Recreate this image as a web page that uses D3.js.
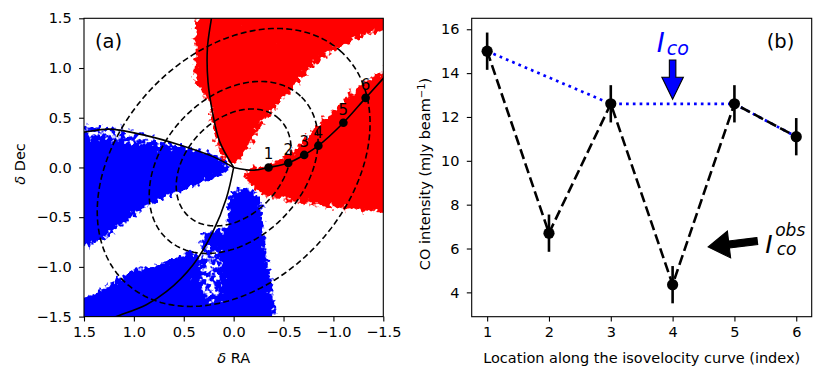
<!DOCTYPE html>
<html>
<head>
<meta charset="utf-8">
<script src="https://cdn.jsdelivr.net/npm/d3@7"></script>
<style>
  body { margin: 0; background: #fff; }
  text { font-family: "DejaVu Sans", sans-serif; fill: #000; }
</style>
</head>
<body>
<div id="wrapper"></div>
<script>
// ---------- panel (a) data : offsets in RA / Dec ----------
const locRA = [-0.35, -0.547, -0.707, -0.849, -1.10, -1.323];
const locDec = [0.0, 0.045, 0.126, 0.219, 0.45, 0.70];
const locLabels = ["1", "2", "3", "4", "5", "6"];
const axisTicksA = [1.5, 1.0, 0.5, 0.0, -0.5, -1.0, -1.5];

// dashed rings (projected circles), semi-major axis in same units
const ringMajor = [0.668, 0.982, 1.587];
const ringAxisRatio = 0.72;
const ringAngleDeg = 47;

// isovelocity curves, two branches each meeting at the centre
const isoLeft = [[1.6, 0.34], [1.5, 0.355], [1.24, 0.385], [0.875, 0.32], [0.54, 0.226], [0.207, 0.109], [0, 0]];
const isoRight = [[0, 0], [-0.19, -0.028], [-0.35, 0.0], [-0.547, 0.045], [-0.707, 0.126], [-0.849, 0.219], [-1.10, 0.45], [-1.323, 0.70], [-1.5, 0.896], [-1.6, 1.01]];
const minorUp = [[0.21, 1.6], [0.223, 1.5], [0.263, 1.2], [0.257, 0.86], [0.207, 0.53], [0.14, 0.26], [0, 0]];
const minorDown = [[0, 0], [0.073, -0.31], [0.207, -0.645], [0.408, -0.98], [0.675, -1.25], [0.875, -1.38], [1.176, -1.5], [1.3, -1.55]];

// red (redshifted) and blue (blueshifted) emission patches
const redUpper = [[0.371, 1.6], [-1.6, 1.6], [-1.6, 1.40], [-1.296, 1.332], [-1.029, 1.198], [-0.762, 0.997], [-0.561, 0.762], [-0.294, 0.46], [-0.06, 0.058], [0.01, 0.035], [0.073, 0.058], [0.173, 0.196], [0.21, 0.427], [0.24, 0.661], [0.391, 0.862], [0.391, 1.198]];
const redLower = [[-0.10, -0.045], [-0.22, 0.015], [-0.36, 0.025], [-0.46, 0.058], [-0.63, 0.193], [-0.795, 0.394], [-0.96, 0.528], [-1.13, 0.695], [-1.30, 0.862], [-1.6, 1.02], [-1.6, -0.45], [-1.296, -0.427], [-0.962, -0.394], [-0.628, -0.344], [-0.29, -0.276], [-0.16, -0.176]];
const blueFringe = [[0.01, 0.005], [0.19, 0.146], [0.371, 0.196], [0.671, 0.266], [0.872, 0.357], [1.212, 0.427], [1.6, 0.47], [1.6, 0.2], [0.5, 0.15], [0.2, 0.1]];
const blueArm = [[0.01, 0.005], [0.21, 0.126], [0.541, 0.196], [0.872, 0.206], [1.212, 0.246], [1.6, 0.30], [1.6, -0.87], [1.343, -0.729], [1.209, -0.645], [1.042, -0.508], [0.875, -0.377], [0.708, -0.31], [0.541, -0.243], [0.374, -0.176], [0.207, -0.109], [0.04, -0.025]];
const blueLowLeft = [[1.6, -1.33], [1.373, -1.271], [1.209, -1.148], [0.975, -1.013], [0.775, -0.98], [0.574, -0.913], [0.408, -0.83], [0.341, -0.95], [0.371, -1.151], [0.311, -1.332], [0.19, -1.382], [0.09, -1.332], [0.09, -1.6], [1.6, -1.6]];
const blueColumn = [[0.04, -0.276], [-0.03, -0.216], [-0.13, -0.196], [-0.21, -0.236], [-0.26, -0.327], [-0.29, -0.477], [-0.321, -0.809], [-0.361, -1.08], [-0.401, -1.312], [-0.431, -1.6], [0.12, -1.6], [0.12, -1.231], [0.10, -0.829], [0.20, -0.799], [0.321, -0.769], [0.341, -0.688], [0.24, -0.638], [0.06, -0.628], [0.06, -0.377]];
const blueHaze = [[0.341, -0.78], [0.10, -0.81], [0.12, -1.6], [0.44, -1.6], [0.391, -1.231]];

// ---------- panel (b) data ----------
const locIndex = [1, 2, 3, 4, 5, 6];
const coObs = [15.0, 6.7, 12.6, 4.35, 12.6, 11.1];
const coErr = [0.85, 0.85, 0.85, 0.85, 0.85, 0.85];
const coTrueIndex = [1, 3, 5, 6];
const coTrue = [15.0, 12.6, 12.6, 11.1];
const ticksBx = [1, 2, 3, 4, 5, 6];
const ticksBy = [4, 6, 8, 10, 12, 14, 16];
const icoArrowIdx = [4, 4], icoArrowVal = [14.6, 12.81];
const obsArrowIdx = [5.37, 4.575], obsArrowVal = [6.34, 6.07];
const icoLabelAt = [3.744, 14.98];
const obsLabelAt = [5.498, 5.78];

const W = 830, H = 379;
const fontTick = 14.5;

const svg = d3.select("#wrapper").append("svg").attr("width", W).attr("height", H);
const defs = svg.append("defs");

// speckled soft edges: blurred alpha + noise, then thresholded
function speckleFilter(id, colour, seed) {
  const f = defs.append("filter").attr("id", id).attr("color-interpolation-filters", "sRGB")
    .attr("x", "-10%").attr("y", "-10%").attr("width", "120%").attr("height", "120%");
  f.append("feGaussianBlur").attr("in", "SourceAlpha").attr("stdDeviation", 4).attr("result", "b");
  f.append("feTurbulence").attr("type", "fractalNoise").attr("baseFrequency", 0.22)
    .attr("numOctaves", 2).attr("seed", seed).attr("result", "n");
  f.append("feColorMatrix").attr("in", "n").attr("type", "matrix")
    .attr("values", "0 0 0 0 0  0 0 0 0 0  0 0 0 0 0  1 0 0 0 0").attr("result", "na");
  f.append("feComposite").attr("in", "b").attr("in2", "na").attr("operator", "arithmetic")
    .attr("k1", 0).attr("k2", 1).attr("k3", 1.1).attr("k4", -0.55).attr("result", "m");
  f.append("feComponentTransfer").attr("in", "m").attr("result", "mt")
    .append("feFuncA").attr("type", "linear").attr("slope", 6).attr("intercept", -2.5);
  f.append("feFlood").attr("flood-color", colour).attr("result", "c");
  f.append("feComposite").attr("in", "c").attr("in2", "mt").attr("operator", "in");
}
speckleFilter("speckRed", "#ff0000", 4);
speckleFilter("speckBlue", "#0000ff", 9);

function arrowPoly(x0, y0, x1, y1, w, hw, hl) {
  const dx = x1 - x0, dy = y1 - y0, L = Math.hypot(dx, dy);
  const ux = dx / L, uy = dy / L, nx = -uy, ny = ux;
  const bx = x1 - ux * hl, by = y1 - uy * hl;
  return [[x0 + nx * w / 2, y0 + ny * w / 2], [bx + nx * w / 2, by + ny * w / 2],
    [bx + nx * hw / 2, by + ny * hw / 2], [x1, y1], [bx - nx * hw / 2, by - ny * hw / 2],
    [bx - nx * w / 2, by - ny * w / 2], [x0 - nx * w / 2, y0 - ny * w / 2]];
}

function styleAxis(g) {
  g.select(".domain").remove();
  g.selectAll(".tick line").attr("stroke", "#000").attr("stroke-width", 1.1);
  g.selectAll(".tick text").attr("font-size", fontTick).attr("font-family", "DejaVu Sans").attr("fill", "#000");
}

// ================= panel (a) =================
let dimA = { left: 84, top: 18.3, width: 299.3, height: 298.3 };
const xA = d3.scaleLinear().domain([1.5, -1.5]).range([0, dimA.width]);
const yA = d3.scaleLinear().domain([-1.5, 1.5]).range([dimA.height, 0]);
const gA = svg.append("g").attr("transform", `translate(${dimA.left},${dimA.top})`);
defs.append("clipPath").attr("id", "clipA").append("rect")
  .attr("width", dimA.width).attr("height", dimA.height);
const plotA = gA.append("g").attr("clip-path", "url(#clipA)");

const patch = d3.line().x(d => xA(d[0])).y(d => yA(d[1])).curve(d3.curveLinearClosed);
const blueG = plotA.append("g").attr("filter", "url(#speckBlue)");
blueG.append("path").attr("d", patch(blueFringe)).attr("fill", "#000").attr("fill-opacity", 0.5);
blueG.append("path").attr("d", patch(blueHaze)).attr("fill", "#000").attr("fill-opacity", 0.5);
[blueArm, blueLowLeft, blueColumn].forEach(p => blueG.append("path").attr("d", patch(p)).attr("fill", "#000"));
const redG = plotA.append("g").attr("filter", "url(#speckRed)");
[redUpper, redLower].forEach(p => redG.append("path").attr("d", patch(p)).attr("fill", "#000"));

// dashed rings
const theta = ringAngleDeg * Math.PI / 180;
const ringLine = d3.line().x(d => xA(d[0])).y(d => yA(d[1]));
ringMajor.forEach(a => {
  const b = a * ringAxisRatio;
  const pts = d3.range(0, 361, 2).map(t => {
    const tr = t * Math.PI / 180;
    const sx = a * Math.cos(tr) * Math.cos(theta) - b * Math.sin(tr) * Math.sin(theta);
    const sy = a * Math.cos(tr) * Math.sin(theta) + b * Math.sin(tr) * Math.cos(theta);
    return [-sx, sy];
  });
  plotA.append("path").attr("d", ringLine(pts)).attr("fill", "none")
    .attr("stroke", "#000").attr("stroke-width", 1.6).attr("stroke-dasharray", "6,3.2");
});

// solid curves
const smooth = d3.line().x(d => xA(d[0])).y(d => yA(d[1])).curve(d3.curveCatmullRom.alpha(0.5));
[isoLeft, isoRight, minorUp, minorDown].forEach(c => {
  plotA.append("path").attr("d", smooth(c)).attr("fill", "none")
    .attr("stroke", "#000").attr("stroke-width", 1.6);
});

// locations
plotA.selectAll("circle.loc").data(locRA).enter().append("circle").attr("class", "loc")
  .attr("cx", d => xA(d)).attr("cy", (d, i) => yA(locDec[i])).attr("r", 4.3).attr("fill", "#000");
gA.selectAll("text.loclab").data(locLabels).enter().append("text").attr("class", "loclab")
  .attr("x", (d, i) => xA(locRA[i])).attr("y", (d, i) => yA(locDec[i]) - 8)
  .attr("text-anchor", "middle").attr("font-size", 15).text(d => d);

gA.append("text").attr("x", 11).attr("y", 30).attr("font-size", 19.5).text("(a)");

const axXA = gA.append("g").attr("transform", `translate(0,${dimA.height})`)
  .call(d3.axisBottom(xA).tickValues(axisTicksA).tickFormat(d3.format(".1f")).tickSize(4.9).tickPadding(5.5));
styleAxis(axXA);
const axYA = gA.append("g")
  .call(d3.axisLeft(yA).tickValues(axisTicksA).tickFormat(d3.format(".1f")).tickSize(4.9).tickPadding(7.4));
styleAxis(axYA);
gA.append("rect").attr("width", dimA.width).attr("height", dimA.height)
  .attr("fill", "none").attr("stroke", "#000").attr("stroke-width", 1.1);

const labA = svg.append("text").attr("x", dimA.left + dimA.width / 2).attr("y", 362.5)
  .attr("text-anchor", "middle").attr("font-size", fontTick);
labA.append("tspan").attr("font-style", "italic").text("δ");
labA.append("tspan").text(" RA");
const labAy = svg.append("text").attr("transform", `translate(25,164) rotate(-90)`)
  .attr("text-anchor", "middle").attr("font-size", fontTick);
labAy.append("tspan").attr("font-style", "italic").text("δ");
labAy.append("tspan").text(" Dec");

// ================= panel (b) =================
let dimB = { left: 471.7, top: 18.3, width: 340, height: 298.4 };
const xB = d3.scaleLinear().domain([0.75, 6.25]).range([0, dimB.width]);
const yB = d3.scaleLinear().domain([2.89, 16.5]).range([dimB.height, 0]);
const gB = svg.append("g").attr("transform", `translate(${dimB.left},${dimB.top})`);

const lineB = d3.line().x(d => xB(d[0])).y(d => yB(d[1]));
gB.append("path").attr("d", lineB(coTrueIndex.map((d, i) => [d, coTrue[i]])))
  .attr("fill", "none").attr("stroke", "#0000ff").attr("stroke-width", 2.7).attr("stroke-dasharray", "2.7,4.1");
gB.append("path").attr("d", lineB(locIndex.map((d, i) => [d, coObs[i]])))
  .attr("fill", "none").attr("stroke", "#000").attr("stroke-width", 2.6).attr("stroke-dasharray", "10.3,4.5");
gB.selectAll("line.err").data(locIndex).enter().append("line").attr("class", "err")
  .attr("x1", d => xB(d)).attr("x2", d => xB(d))
  .attr("y1", (d, i) => yB(coObs[i] - coErr[i])).attr("y2", (d, i) => yB(coObs[i] + coErr[i]))
  .attr("stroke", "#000").attr("stroke-width", 2.6);
gB.selectAll("circle.obs").data(locIndex).enter().append("circle").attr("class", "obs")
  .attr("cx", d => xB(d)).attr("cy", (d, i) => yB(coObs[i])).attr("r", 5.6).attr("fill", "#000");

// arrows
const polyLine = d3.line().curve(d3.curveLinearClosed);
gB.append("path").attr("d", polyLine(arrowPoly(xB(icoArrowIdx[0]), yB(icoArrowVal[0]), xB(icoArrowIdx[1]), yB(icoArrowVal[1]), 6.5, 21.5, 22)))
  .attr("fill", "#0000ff").attr("stroke", "#000").attr("stroke-width", 1.1);
gB.append("path").attr("d", polyLine(arrowPoly(xB(obsArrowIdx[0]), yB(obsArrowVal[0]), xB(obsArrowIdx[1]), yB(obsArrowVal[1]), 7, 27, 21)))
  .attr("fill", "#000").attr("stroke", "#000").attr("stroke-width", 1.1);

// math labels
const icoX = xB(icoLabelAt[0]), icoY = yB(icoLabelAt[1]);
const icoText = gB.append("text").attr("font-style", "italic").style("fill", "#0000ff");
icoText.append("tspan").attr("x", icoX).attr("y", icoY).attr("font-size", 27).text("I");
icoText.append("tspan").attr("x", icoX + 10).attr("y", icoY + 3.5).attr("font-size", 19).text("co");
const obsX = xB(obsLabelAt[0]), obsY = yB(obsLabelAt[1]);
const obsText = gB.append("text").attr("font-style", "italic");
obsText.append("tspan").attr("x", obsX).attr("y", obsY).attr("font-size", 25).text("I");
obsText.append("tspan").attr("x", obsX + 10).attr("y", obsY - 17.5).attr("font-size", 17).text("obs");
obsText.append("tspan").attr("x", obsX + 11.5).attr("y", obsY + 1.5).attr("font-size", 17).text("co");

gB.append("text").attr("x", dimB.width - 45).attr("y", 30).attr("font-size", 19.5).text("(b)");

const axXB = gB.append("g").attr("transform", `translate(0,${dimB.height})`)
  .call(d3.axisBottom(xB).tickValues(ticksBx).tickFormat(d3.format("d")).tickSize(4.9).tickPadding(5.5));
styleAxis(axXB);
const axYB = gB.append("g")
  .call(d3.axisLeft(yB).tickValues(ticksBy).tickFormat(d3.format("d")).tickSize(4.9).tickPadding(7.4));
styleAxis(axYB);
gB.append("rect").attr("width", dimB.width).attr("height", dimB.height)
  .attr("fill", "none").attr("stroke", "#000").attr("stroke-width", 1.1);

svg.append("text").attr("x", dimB.left + dimB.width / 2).attr("y", 362.5)
  .attr("text-anchor", "middle").attr("font-size", fontTick)
  .text("Location along the isovelocity curve (index)");
const labBy = svg.append("text").attr("transform", `translate(430,174) rotate(-90)`)
  .attr("text-anchor", "middle").attr("font-size", fontTick);
labBy.append("tspan").text("CO intensity (mJy beam");
labBy.append("tspan").attr("dy", -5.5).attr("font-size", 10).text("−1");
labBy.append("tspan").attr("dy", 5.5).text(")");
</script>
</body>
</html>
